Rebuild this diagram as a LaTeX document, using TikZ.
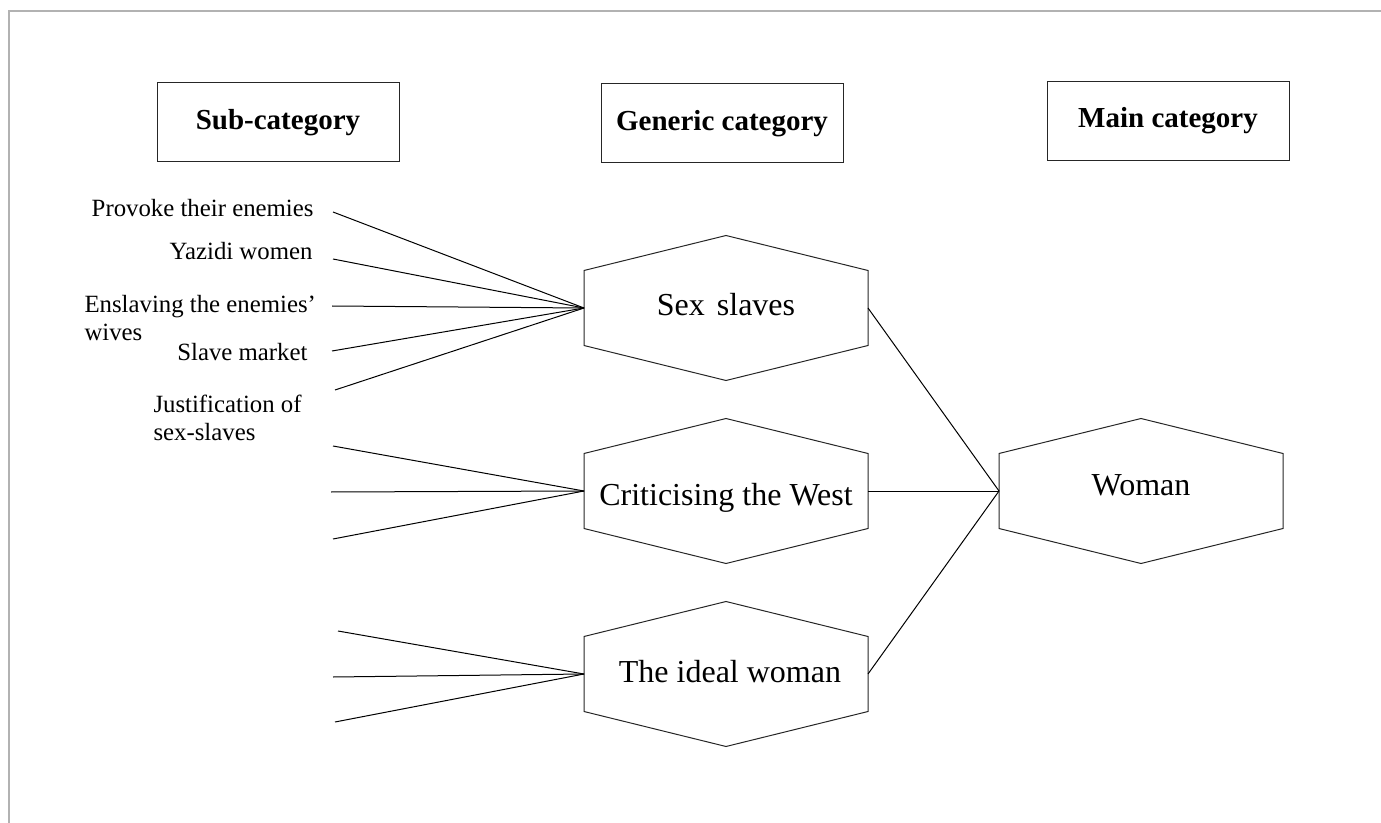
\documentclass[tikz,border=0pt]{standalone}
\usepackage{fontspec}
\setmainfont{Liberation Serif}
\usetikzlibrary{positioning}

\begin{document}
\begin{tikzpicture}[x=0.75pt, y=-0.75pt,
        every path/.style={line width=0.75pt},
        header/.style={draw=black!85, rectangle, minimum width=181.5pt, minimum height=59.25pt, font=\bfseries\fontsize{21.75pt}{26pt}\selectfont},
        hexbox/.style={rectangle, minimum width=212.25pt, minimum height=108pt, text height=18pt, text depth=6pt, font=\fontsize{24pt}{28pt}\selectfont},
        sublabel/.style={inner sep=0pt, font=\fontsize{18.6pt}{20.5pt}\selectfont}]

        \useasboundingbox (0,0) rectangle (1381,823);
        \draw[line width=1.5pt, draw=black!30] (9,823) -- (9,11) -- (1381,11);

        \node[header] (sub) at (278,122.5) {Sub-category};
        \node[header] (gen) at (722,123.5) {Generic category};
        \node[header] (main) at (1168,121) {Main category};

        \node[hexbox] (sex) at (726,308) {Sex\hspace{3pt} slaves};
        \node[hexbox] (west) at (726,491) {\raisebox{-4.5pt}{Criticising the West}};
        \node[hexbox] (ideal) at (726,674) {\hspace{6pt}The ideal woman};
        \node[hexbox] (woman) at (1141,491) {\raisebox{3pt}{Woman}};

        \foreach \n in {sex,west,ideal,woman}
            \draw[black!85] (\n.north) -- ([yshift=-26.25pt]\n.north east) -- ([yshift=26.25pt]\n.south east)
                -- (\n.south) -- ([yshift=26.25pt]\n.south west) -- ([yshift=-26.25pt]\n.north west) -- cycle;

        \node[sublabel, anchor=east] (l1) at (314,208) {Provoke their enemies};
        \node[sublabel, anchor=east] (l2) at (313,251) {Yazidi women};
        \node[sublabel, anchor=west, align=left] (l3) at (84,318) {Enslaving the enemies’\\wives};
        \node[sublabel, anchor=east] (l4) at (308,352) {Slave market};
        \node[sublabel, anchor=west, align=left] (l5) at (153,418) {Justification of\\sex-slaves};

        \coordinate (s1) at (333,212);
        \coordinate (s2) at (333,259);
        \coordinate (s3) at (332,306);
        \coordinate (s4) at (332,351);
        \coordinate (s5) at (335,390);
        \coordinate (w1) at (333,446);
        \coordinate (w2) at (331,492);
        \coordinate (w3) at (333,539);
        \coordinate (i1) at (338,631);
        \coordinate (i2) at (333,677);
        \coordinate (i3) at (335,722);

        \foreach \i in {1,...,5}
            \draw (s\i) -- (sex.west);
        \foreach \i in {1,2,3}
            \draw (w\i) -- (west.west);
        \foreach \i in {1,2,3}
            \draw (i\i) -- (ideal.west);

        \draw (sex.east) -- (woman.west);
        \draw (west.east) -- (woman.west);
        \draw (ideal.east) -- (woman.west);

\end{tikzpicture}
\end{document}
